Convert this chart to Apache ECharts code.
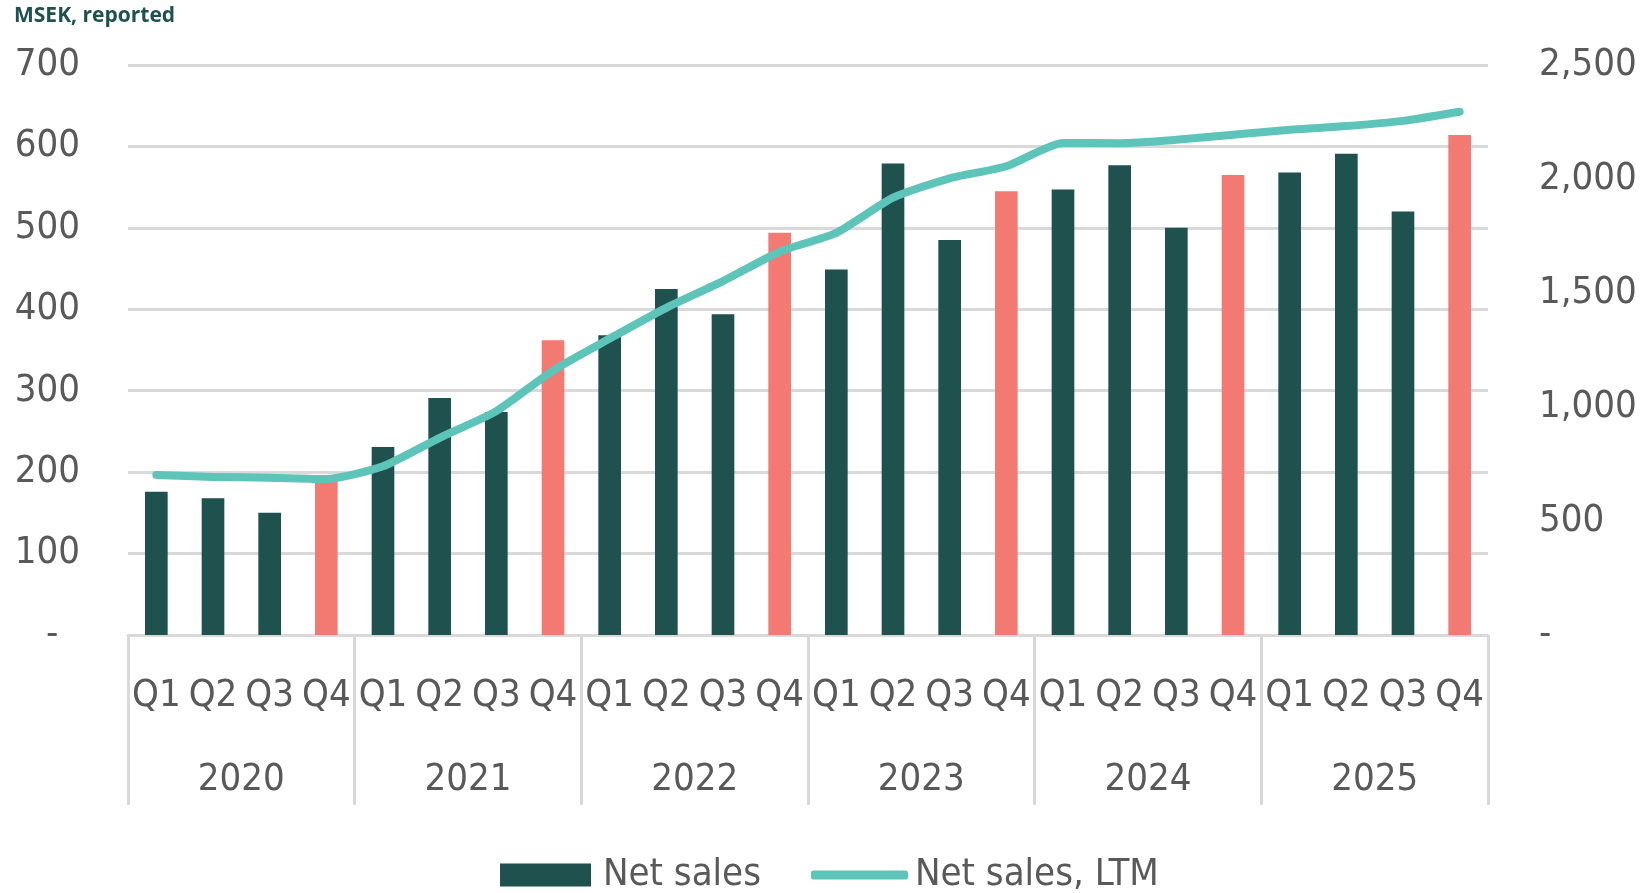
<!DOCTYPE html>
<html>
<head>
<meta charset="utf-8">
<script src="https://cdn.jsdelivr.net/npm/echarts@6/dist/echarts.min.js"></script>
<style>
html,body{margin:0;padding:0;background:#fff;}
#chart{width:1640px;height:893px;}
</style>
</head>
<body>
<div id="chart"></div>
<script>
const years = ['2020', '2021', '2022', '2023', '2024', '2025'];
const quarters = ['Q1', 'Q2', 'Q3', 'Q4'];
const netSales = [176, 168, 150, 190, 231, 291, 274, 362, 368, 425, 394, 494, 449, 579, 485, 545, 547, 577, 500, 565, 568, 591, 520, 614];
const netSalesLTM = [702, 693, 690, 684, 740, 865, 982, 1160, 1300, 1435, 1552, 1681, 1764, 1918, 2003, 2056, 2158, 2157, 2172, 2194, 2216, 2232, 2255, 2295];
const leftTicks = [0, 100, 200, 300, 400, 500, 600, 700];
const rightTicks = [0, 500, 1000, 1500, 2000, 2500];

const DARK = '#1F514F';
const PINK = '#F27A72';
const TEAL = '#5CC4B9';
const GRID = '#D9D9D9';
const TXT = '#595959';
const FONT = '"Liberation Sans Narrow", "DejaVu Sans Condensed", "Liberation Sans", sans-serif';

const qLabels = [];
years.forEach(y => quarters.forEach(q => qLabels.push(q)));

const barData = netSales.map((v, i) => ({
  value: v,
  itemStyle: { color: qLabels[i] === 'Q4' ? PINK : DARK }
}));

const chart = echarts.init(document.getElementById('chart'), null, { renderer: 'canvas' });
chart.setOption({
  animation: false,
  backgroundColor: '#fff',
  title: {
    text: 'MSEK, reported',
    left: 9, top: 1,
    textStyle: { fontFamily: '"Open Sans", sans-serif', fontWeight: 700, fontSize: 21, color: '#1F524F' }
  },
  grid: { left: 128, right: 152, top: 65, bottom: 258, containLabel: false },
  legend: [
    {
      data: [{ name: 'Net sales', icon: 'rect' }],
      left: 495, top: 851,
      itemWidth: 91, itemHeight: 23,
      textStyle: { fontFamily: FONT, fontSize: 38, color: TXT, padding: [0, 0, 0, 7] }
    },
    {
      data: [{ name: 'Net sales, LTM', icon: 'roundRect' }],
      left: 806, top: 851,
      itemWidth: 97, itemHeight: 9,
      textStyle: { fontFamily: FONT, fontSize: 38, color: TXT, padding: [0, 0, 0, 2] }
    }
  ],
  xAxis: [
    {
      type: 'category',
      data: qLabels,
      position: 'bottom',
      axisLine: { show: true, lineStyle: { color: GRID, width: 3 } },
      axisTick: { show: false },
      axisLabel: { interval: 0, margin: 42, fontFamily: FONT, fontSize: 38, color: TXT }
    },
    {
      type: 'category',
      data: years,
      position: 'bottom',
      axisLine: { show: false },
      axisTick: { show: true, length: 170, interval: 0, lineStyle: { color: GRID, width: 3 } },
      axisLabel: { interval: 0, margin: 126, fontFamily: FONT, fontSize: 38, color: TXT }
    }
  ],
  yAxis: [
    {
      type: 'value', min: leftTicks[0], max: leftTicks[leftTicks.length - 1], interval: 100,
      position: 'left',
      axisLine: { show: false }, axisTick: { show: false },
      splitLine: { show: true, lineStyle: { color: GRID, width: 3 } },
      axisLabel: {
        margin: 48, fontFamily: FONT, fontSize: 38, color: TXT,
        formatter: v => v === 0 ? '-  ' : String(v)
      }
    },
    {
      type: 'value', min: rightTicks[0], max: rightTicks[rightTicks.length - 1], interval: 500,
      position: 'right',
      axisLine: { show: false }, axisTick: { show: false },
      splitLine: { show: false },
      axisLabel: {
        margin: 51, align: 'left', fontFamily: FONT, fontSize: 38, color: TXT,
        formatter: v => v === 0 ? '-' : v.toLocaleString('en-US')
      }
    }
  ],
  series: [
    {
      name: 'Net sales',
      type: 'bar',
      xAxisIndex: 0, yAxisIndex: 0,
      data: barData,
      barWidth: '40%',
      itemStyle: { color: DARK },
      z: 2
    },
    {
      name: 'Net sales, LTM',
      type: 'line',
      xAxisIndex: 0, yAxisIndex: 1,
      data: netSalesLTM,
      smooth: 0.2,
      showSymbol: false,
      symbol: 'none',
      itemStyle: { color: TEAL },
      lineStyle: { color: TEAL, width: 8, cap: 'round', join: 'round' },
      z: 3
    }
  ]
});
</script>
</body>
</html>
